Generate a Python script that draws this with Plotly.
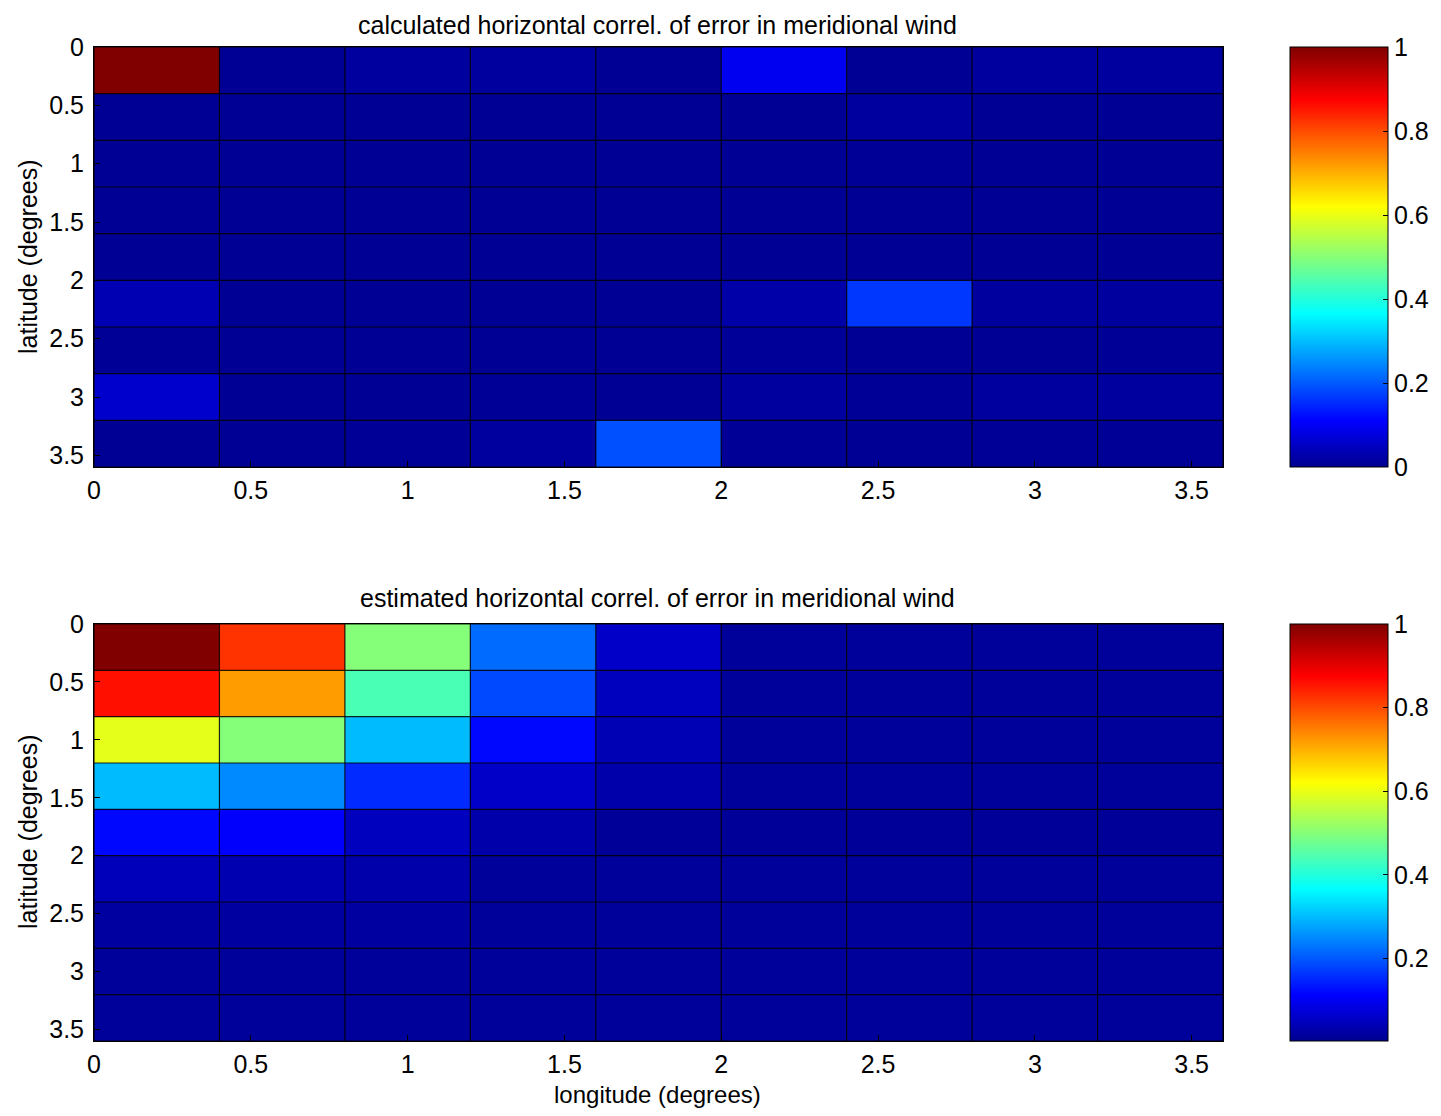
import plotly.graph_objects as go

# cell edges (degrees)
lon_edges = [0, 0.4, 0.8, 1.2, 1.6, 2.0, 2.4, 2.8, 3.2, 3.6]
lat_edges = [0, 0.4, 0.8, 1.2, 1.6, 2.0, 2.4, 2.8, 3.2, 3.6]
tick_vals = [0, 0.5, 1, 1.5, 2, 2.5, 3, 3.5]
tick_text = ["0", "0.5", "1", "1.5", "2", "2.5", "3", "3.5"]

# calculated correlation (rows = latitude, cols = longitude)
calculated = [
    [1.00, 0.005, 0.015, 0.015, 0.005, 0.095, 0.005, 0.015, 0.015],
    [0.005, 0.005, 0.005, 0.005, 0.005, 0.005, 0.015, 0.005, 0.005],
    [0.005, 0.005, 0.005, 0.005, 0.005, 0.005, 0.008, 0.005, 0.005],
    [0.005, 0.005, 0.005, 0.005, 0.005, 0.005, 0.005, 0.005, 0.005],
    [0.005, 0.005, 0.005, 0.005, 0.005, 0.005, 0.005, 0.005, 0.005],
    [0.035, 0.005, 0.005, 0.005, 0.005, 0.025, 0.165, 0.015, 0.015],
    [0.008, 0.005, 0.005, 0.005, 0.005, 0.010, 0.005, 0.005, 0.008],
    [0.060, 0.005, 0.005, 0.008, 0.005, 0.015, 0.008, 0.015, 0.015],
    [0.005, 0.005, 0.008, 0.015, 0.190, 0.008, 0.005, 0.008, 0.008],
]

# estimated correlation
estimated = [
    [1.00, 0.825, 0.50, 0.22, 0.06, 0.015, 0.015, 0.015, 0.015],
    [0.86, 0.72, 0.44, 0.185, 0.05, 0.015, 0.015, 0.015, 0.015],
    [0.595, 0.50, 0.30, 0.12, 0.04, 0.015, 0.015, 0.015, 0.015],
    [0.30, 0.25, 0.155, 0.06, 0.03, 0.015, 0.015, 0.015, 0.015],
    [0.12, 0.11, 0.05, 0.03, 0.012, 0.012, 0.012, 0.012, 0.012],
    [0.045, 0.035, 0.03, 0.015, 0.015, 0.015, 0.015, 0.015, 0.015],
    [0.02, 0.02, 0.02, 0.015, 0.015, 0.015, 0.015, 0.015, 0.015],
    [0.015, 0.015, 0.015, 0.015, 0.015, 0.015, 0.015, 0.015, 0.015],
    [0.015, 0.015, 0.015, 0.015, 0.015, 0.015, 0.015, 0.015, 0.015],
]

cbar_top_ticks = [0, 0.2, 0.4, 0.6, 0.8, 1]
cbar_bot_ticks = [0.2, 0.4, 0.6, 0.8, 1]

jet = [
    [0.0, "rgb(0,0,143)"],
    [0.11, "rgb(0,0,255)"],
    [0.365, "rgb(0,255,255)"],
    [0.62, "rgb(255,255,0)"],
    [0.875, "rgb(255,0,0)"],
    [1.0, "rgb(128,0,0)"],
]

FONT = "Liberation Sans, Arial, Helvetica, sans-serif"
TICK_SIZE = 25
LABEL_SIZE = 25

# page body has an 8px default margin; size figure so it fits the 1441x1116 window
OFF = 8
W, H = 1441 - 2 * OFF, 1116 - 2 * OFF

def px_x(x):
    return (x - OFF) / W

def px_y(y):
    return 1 - (y - OFF) / H

top_dom_y = [px_y(467), px_y(47)]
bot_dom_y = [px_y(1041), px_y(624)]
dom_x = [px_x(94), px_x(1223)]

def cbar(dom, ticks):
    return dict(
        x=px_x(1290), xanchor="left", thickness=98, thicknessmode="pixels",
        y=dom[0], yanchor="bottom", len=dom[1] - dom[0], lenmode="fraction",
        ypad=0, xpad=0,
        outlinewidth=1, outlinecolor="black",
        tickvals=ticks, ticktext=[str(v) for v in ticks],
        ticks="inside", ticklen=5, tickcolor="black",
        tickfont=dict(family=FONT, size=TICK_SIZE, color="black"),
    )

fig = go.Figure()

fig.add_trace(go.Heatmap(
    z=calculated, x=lon_edges, y=lat_edges,
    colorscale=jet, zmin=0, zmax=1.0,
    xaxis="x", yaxis="y",
    colorbar=cbar(top_dom_y, cbar_top_ticks),
))

fig.add_trace(go.Heatmap(
    z=estimated, x=lon_edges, y=lat_edges,
    colorscale=jet, zmin=0.003, zmax=1.0,
    xaxis="x2", yaxis="y2",
    colorbar=cbar(bot_dom_y, cbar_bot_ticks),
))

# cell outlines (faceted shading), built from the cell edges
gx, gy = [], []
for e in lon_edges:
    gx += [e, e, None]
    gy += [lat_edges[0], lat_edges[-1], None]
for e in lat_edges:
    gx += [lon_edges[0], lon_edges[-1], None]
    gy += [e, e, None]
for xa, ya in (("x", "y"), ("x2", "y2")):
    fig.add_trace(go.Scatter(x=gx, y=gy, mode="lines", xaxis=xa, yaxis=ya,
                             line=dict(color="rgba(0,0,0,0.85)", width=1.2),
                             hoverinfo="skip", showlegend=False))

axis_common = dict(
    tickvals=tick_vals, ticktext=tick_text,
    ticks="inside", ticklen=6, tickcolor="black",
    showline=True, linecolor="black", linewidth=1, mirror=True,
    showgrid=False, zeroline=False,
    tickfont=dict(family=FONT, size=TICK_SIZE, color="black"),
)

def ann(text, x, y, angle=0, size=LABEL_SIZE):
    return dict(text=text, textangle=angle, x=px_x(x), y=px_y(y),
                xref="paper", yref="paper", xanchor="center", yanchor="middle",
                showarrow=False, font=dict(family=FONT, size=size, color="black"))

fig.update_layout(
    width=W, height=H,
    margin=dict(l=0, r=0, t=0, b=0, pad=0, autoexpand=False),
    paper_bgcolor="white",
    plot_bgcolor="white",
    showlegend=False,
    xaxis=dict(domain=dom_x, anchor="y", range=[0, 3.6], ticklabelstandoff=1, **axis_common),
    yaxis=dict(domain=top_dom_y, anchor="x", range=[3.6, 0], ticklabelstandoff=4, **axis_common),
    xaxis2=dict(domain=dom_x, anchor="y2", range=[0, 3.6], ticklabelstandoff=1, **axis_common),
    yaxis2=dict(domain=bot_dom_y, anchor="x2", range=[3.6, 0], ticklabelstandoff=4, **axis_common),
    annotations=[
        ann("calculated horizontal correl. of error in meridional wind", 657, 25),
        ann("estimated horizontal correl. of error in meridional wind", 657, 598),
        ann("latitude (degrees)", 28, 257, -90),
        ann("latitude (degrees)", 28, 832, -90),
        ann("longitude (degrees)", 657, 1094, size=24),
    ],
)

fig.write_html("out.html")
